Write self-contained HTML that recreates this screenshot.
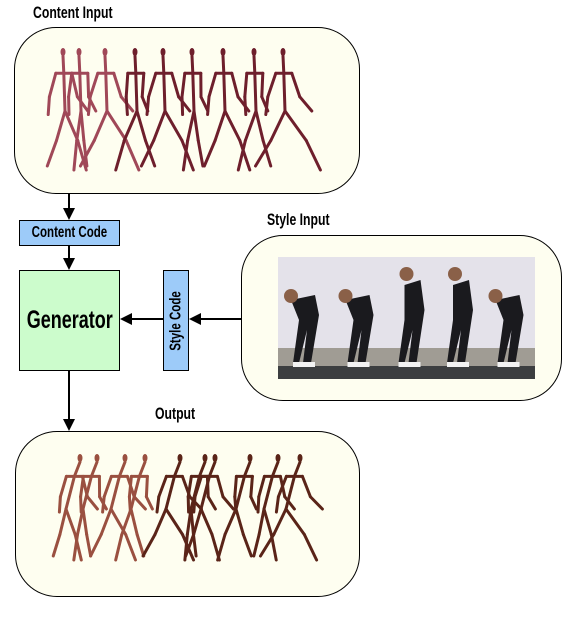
<!DOCTYPE html>
<html><head><meta charset="utf-8"><style>
body{margin:0;width:563px;height:617px;background:#fff;position:relative;overflow:hidden;font-family:"Liberation Sans",sans-serif;font-weight:bold}
.lbl{position:absolute;font-size:17px;color:#000;white-space:nowrap;transform:scaleX(0.72);transform-origin:0 0}
.panel{position:absolute;background:#fefef0;border:1.5px solid #000;border-radius:42px;box-sizing:border-box}
.box{position:absolute;border:1.5px solid #000;box-sizing:border-box;display:flex;align-items:center;justify-content:center}
.cn{display:block;white-space:nowrap;transform:scaleX(0.72)}
svg{position:absolute;left:0;top:0}
</style></head><body>
<div class="lbl" style="left:33px;top:3px">Content Input</div>
<div class="panel" style="left:14px;top:27px;width:346px;height:167px"></div>
<div class="box" style="left:19px;top:220px;width:101px;height:26px;background:#9dcbf9;font-size:16px"><span class="cn">Content Code</span></div>
<div class="box" style="left:19px;top:270px;width:101px;height:101px;background:#ccfccc;font-size:25px"><span class="cn">Generator</span></div>
<div class="box" style="left:163px;top:270px;width:26px;height:101px;background:#9dcbf9;font-size:16px"><span style="transform:rotate(-90deg) scaleX(0.72);white-space:nowrap;display:block">Style Code</span></div>
<div class="lbl" style="left:267px;top:210px">Style Input</div>
<div class="panel" style="left:241px;top:235px;width:321px;height:166px"></div>
<div class="lbl" style="left:155px;top:404px">Output</div>
<div class="panel" style="left:15px;top:431px;width:345px;height:166px"></div>
<svg width="563" height="617" id="s">
<defs><marker id="ah" markerWidth="6" markerHeight="6" refX="5" refY="3" orient="auto"><path d="M0,0L6,3L0,6z" fill="#000"/></marker></defs>
<g stroke="#000" stroke-width="2" fill="none">
<line x1="69" y1="194" x2="69" y2="218" marker-end="url(#ah)"/>
<line x1="69" y1="246" x2="69" y2="268" marker-end="url(#ah)"/>
<line x1="241" y1="319" x2="191" y2="319" marker-end="url(#ah)"/>
<line x1="163" y1="319" x2="122" y2="319" marker-end="url(#ah)"/>
<line x1="69" y1="371" x2="69" y2="429" marker-end="url(#ah)"/>
</g>
<g id="photos"></g>
<g id="top"></g>
<g id="bot"></g>
</svg>
<script>
const topX=[63,79,105,135,163,192,223,254,283];
const topPhase=[0.6,-0.2,0.9,-0.6,0.8,-0.3,0.7,-0.5,1];
const botX=[80,97,125,145,180,205,215,250,278,300];
const botPhase=[0.5,-0.3,0.8,-0.5,0.9,-0.2,0.6,-0.6,0.4,1];
function fig(g,x,hy,ph,lean,col,h){
  const ns="http://www.w3.org/2000/svg";
  const sh=hy+h*0.18, hip=hy+h*0.5, ft=hy+h;
  const segs=[
   [x,hy+4,x+lean*0.4,sh],[x+lean*0.4,sh,x+lean,hip],
   [x+lean,hip,x+lean+ph*h*0.18,hip+h*0.25],[x+lean+ph*h*0.18,hip+h*0.25,x+lean+ph*h*0.3,ft],
   [x+lean,hip,x+lean-ph*h*0.12,hip+h*0.25],[x+lean-ph*h*0.12,hip+h*0.25,x+lean-ph*h*0.25,ft-4],
   [x+lean*0.4-8,sh,x+lean*0.4+8,sh],
   [x+lean*0.4+8,sh,x+lean*0.4+10+ph*6,sh+h*0.2],[x+lean*0.4+10+ph*6,sh+h*0.2,x+lean*0.4+18+ph*10,sh+h*0.32],
   [x+lean*0.4-8,sh,x+lean*0.4-12-ph*4,sh+h*0.2],[x+lean*0.4-12-ph*4,sh+h*0.2,x+lean*0.4-12-ph*6,sh+h*0.35]];
  for(const s of segs){const l=document.createElementNS(ns,'line');
   l.setAttribute('x1',s[0]);l.setAttribute('y1',s[1]);l.setAttribute('x2',s[2]);l.setAttribute('y2',s[3]);
   l.setAttribute('stroke',col);l.setAttribute('stroke-width','3');l.setAttribute('stroke-linecap','round');
   
   
   g.appendChild(l);}
  const c=document.createElementNS(ns,'ellipse');c.setAttribute('cx',x);c.setAttribute('cy',hy);c.setAttribute('rx',2.5);c.setAttribute('ry',4);c.setAttribute('fill',col);
  
  
  g.appendChild(c);
}
const tg=document.getElementById('top'),bg=document.getElementById('bot');
topX.forEach((x,i)=>fig(tg,x,52,topPhase[i],2,i<3?'#a04858':'#6e1f2c',118));
botX.forEach((x,i)=>fig(bg,x,458,botPhase[i],-14,i<4?'#9a5040':'#5a2418',102));
const pg=document.getElementById('photos');const ns="http://www.w3.org/2000/svg";
const px=[278,332,387,434,484],pw=[54,55,47,50,51];
px.forEach((x,i)=>{
 const add=(t,a)=>{const e=document.createElementNS(ns,t);for(const k in a)e.setAttribute(k,a[k]);
  
  
  pg.appendChild(e);};
 add('rect',{x:x,y:257,width:pw[i],height:122,fill:'#e4e2ea'});
 add('rect',{x:x,y:348,width:pw[i],height:18,fill:'#a09c94'});
 add('rect',{x:x,y:366,width:pw[i],height:13,fill:'#3c3e40'});
 const cx=x+pw[i]/2;const up=i==2||i==3;
 add('path',{d:`M${cx-14+(up?8:0)},${up?285:300} L${cx+10},${up?280:295} L${cx+14},${up?310:315} L${cx+6},363 L${cx-2},363 L${cx+2},330 L${cx-6},363 L${cx-12},363 L${cx-6},320 Z`,fill:'#1a1a1e'});
 add('circle',{cx:cx-14+(up?10:0),cy:up?274:296,r:7,fill:'#8a6048'});
 add('rect',{x:cx-12,y:362,width:22,height:5,fill:'#f2f2f2'});
});
</script>
</body></html>
